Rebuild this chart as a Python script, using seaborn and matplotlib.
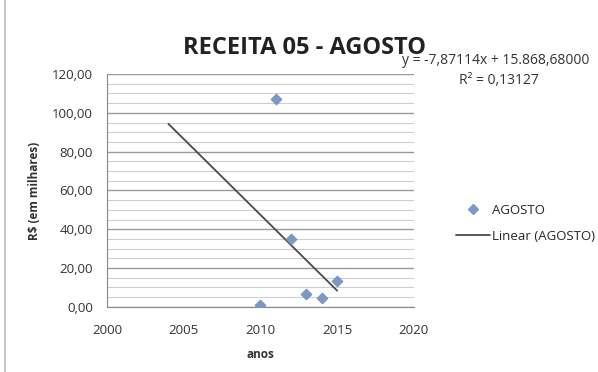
import matplotlib.pyplot as plt
import matplotlib.lines as mlines
import seaborn as sns
import numpy as np
import pandas as pd

anos = [2010, 2011, 2012, 2013, 2014, 2015]
agosto = [1.0, 107.0, 35.0, 6.5, 4.5, 13.5]
trend_anos = [2004, 2015]  # linha de tendência com previsão para trás
x_ticks = [2000, 2005, 2010, 2015, 2020]
y_ticks = [0, 20, 40, 60, 80, 100, 120]

sns.set_style('white')
plt.rcParams['font.family'] = ['Open Sans', 'DejaVu Sans']

df = pd.DataFrame({'anos': anos, 'AGOSTO': agosto})
coef = np.polyfit(anos, agosto, 1)
trend_df = pd.DataFrame({'anos': trend_anos, 'y': np.polyval(coef, trend_anos)})

fig = plt.figure(figsize=(5.98, 3.72), dpi=100)
ax = fig.add_axes([0.179, 0.175, 0.513, 0.626])

# grade principal e secundária
for v in np.arange(0, 121, 5):
    major = v % 20 == 0
    ax.axhline(v, color='#9a9a9a' if major else '#cfcfcf', lw=1.0 if major else 0.8, zorder=0)

sns.lineplot(data=trend_df, x='anos', y='y', ax=ax, color='#4a4a4a', lw=1.3, zorder=2)
sns.scatterplot(data=df, x='anos', y='AGOSTO', ax=ax, marker='D', s=32,
                color='#7b98c9', edgecolor='#6d88b8', zorder=3)

ax.set_xlim(2000, 2020)
ax.set_ylim(0, 120)
ax.set_xticks(x_ticks)
ax.set_yticks(y_ticks)
ax.set_yticklabels([f'{v:.2f}'.replace('.', ',') for v in y_ticks])
ax.tick_params(axis='both', labelsize=9.5, colors='#333333', length=4, direction='out')
ax.tick_params(axis='both', color='#888888')
ax.tick_params(axis='x', pad=8)
ax.tick_params(axis='y', pad=6)
for side in ['top', 'right']:
    ax.spines[side].set_visible(False)
for side in ['left', 'bottom']:
    ax.spines[side].set_color('#888888')
ax.set_xlabel('anos', fontsize=8.5, fontweight='bold', color='#333333', labelpad=8)
ax.set_ylabel('R$ (em milhares)', fontsize=8.5, fontweight='bold', color='#333333', labelpad=8)

fig.text(0.51, 0.856, 'RECEITA 05 - AGOSTO', ha='center', fontsize=17, fontweight='bold', color='#222222')
fig.text(0.673, 0.828, 'y = -7,87114x + 15.868,68000', fontsize=10, color='#333333')
fig.text(0.768, 0.774, 'R² = 0,13127', fontsize=10, color='#333333')

h1 = mlines.Line2D([], [], marker='D', ls='', color='#7b98c9', markersize=5)
h2 = mlines.Line2D([], [], color='#4a4a4a', lw=1.3)
fig.legend([h1, h2], ['AGOSTO', 'Linear (AGOSTO)'], loc='center left',
           bbox_to_anchor=(0.742, 0.40), frameon=False, fontsize=9.5,
           handlelength=2.6, labelspacing=1.0, handletextpad=0.15)

# borda esquerda do gráfico
fig.add_artist(mlines.Line2D([0.009, 0.009], [0.0, 1.0], color='#bbbbbb', lw=1.2))

plt.savefig('out.png', dpi=100)
plt.close()
